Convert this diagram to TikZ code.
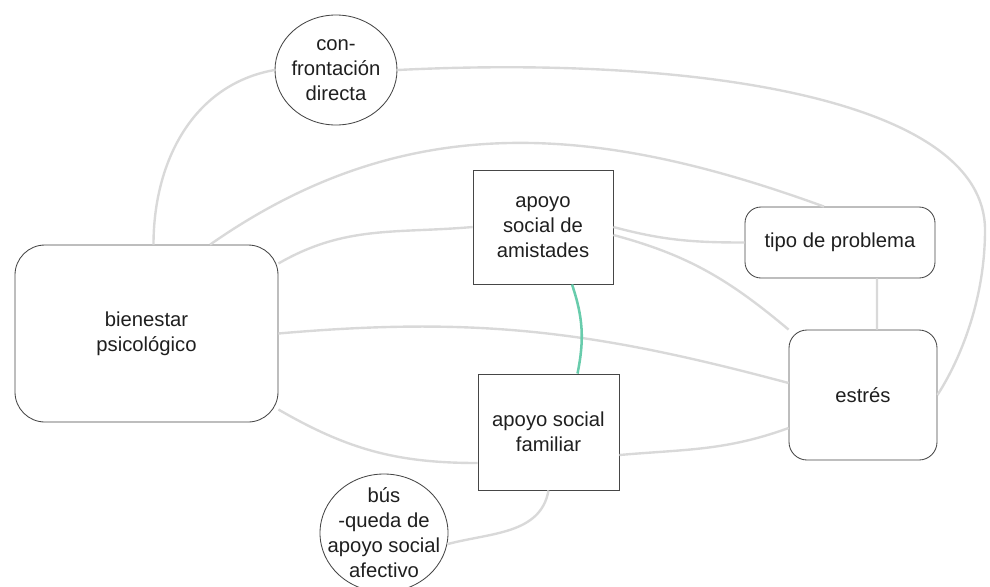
\documentclass[tikz,border=0pt]{standalone}
\usepackage{fontspec}
\setmainfont{Liberation Sans}
\usetikzlibrary{shapes.geometric}
\definecolor{bpgreencol}{RGB}{104,204,172}
\definecolor{bpedge}{RGB}{70,70,70}
\begin{document}
\begin{tikzpicture}[
  x=0.25mm, y=0.25mm,
  bptxt/.style = {font=\fontsize{14.4pt}{17.8pt}\selectfont, text=black!88, align=center},
  bpbox/.style = {bptxt, rectangle, draw=bpedge, line width=0.6pt, inner sep=0pt, fill=white},
  bpround/.style = {bpbox, rounded corners=4.5mm},
  bpoval/.style = {bptxt, ellipse, draw=bpedge, line width=0.6pt, fill=white},
  bplink/.style = {line width=1.7pt, draw=black!15},
  bpgreen/.style = {line width=1.8pt, draw=bpgreencol}
]
  \useasboundingbox (0,0) rectangle (990,-586);
  % conceptos
  \node[bpround, rounded corners=7.5mm, minimum width=65.75mm, minimum height=44.25mm] (bien) at (146.5,-333.5) {bienestar\\psicológico};
  \node[bpoval, inner xsep=-0.5mm, inner ysep=0pt, minimum width=30.5mm, minimum height=27.5mm] (conf) at (336,-70) {con-\\frontación\\directa};
  \node[bpbox, minimum width=35mm, minimum height=28.5mm] (amis) at (543,-227) {apoyo\\social de\\amistades};
  \node[bpround, rounded corners=4mm, minimum width=47.5mm, minimum height=17.75mm] (tipo) at (840,-242.5) {tipo de problema};
  \node[bpround, minimum width=37mm, minimum height=32.5mm] (estres) at (863,-395) {estrés};
  \node[bpbox, minimum width=35.25mm, minimum height=29mm] (fam) at (548.5,-432) {apoyo social\\familiar};
  \node[bpoval, inner xsep=-3mm, inner ysep=-1.5mm, minimum width=32mm, minimum height=29.5mm] (busq) at (384,-533) {bús\\-queda de\\apoyo social\\afectivo};
  \coordinate (giro) at (985,-230);
  % relaciones
  \draw[bplink] ([xshift=1.75mm]bien.north) to[out=90, in=190] (conf.west);
  \draw[bplink] (conf.east) .. controls (700,-55) and (985,-100) .. (giro)
    .. controls (985,-300) and (960,-360) .. (estres.east);
  \draw[bplink] ([xshift=15.9mm]bien.north) to[out=35, in=160] ([xshift=-4mm]tipo.north);
  \draw[bplink] ([yshift=17.5mm]bien.east) to[out=30, in=185] (amis.west);
  \draw[bplink] (amis.east) to[out=-15, in=180] (tipo.west);
  \draw[bplink] ([yshift=-2mm]amis.east) to[out=-15, in=140] (estres.north west);
  \draw[bplink] (bien.east) to[out=5, in=165] ([yshift=3mm]estres.west);
  \draw[bplink] ([yshift=-19mm]bien.east) to[out=-30, in=180] ([yshift=-7.75mm]fam.west);
  \draw[bplink] ([yshift=-5.75mm]fam.east) to[out=5, in=200] ([yshift=-8.25mm]estres.west);
  \draw[bplink] ([xshift=9.25mm]tipo.south) -- ([xshift=3.5mm]estres.north);
  \draw[bplink] (busq.-10) to[out=15, in=-100] (fam.south);
  \draw[bpgreen] ([xshift=7.25mm]amis.south) to[bend left=15] ([xshift=7.25mm]fam.north);
\end{tikzpicture}
\end{document}
